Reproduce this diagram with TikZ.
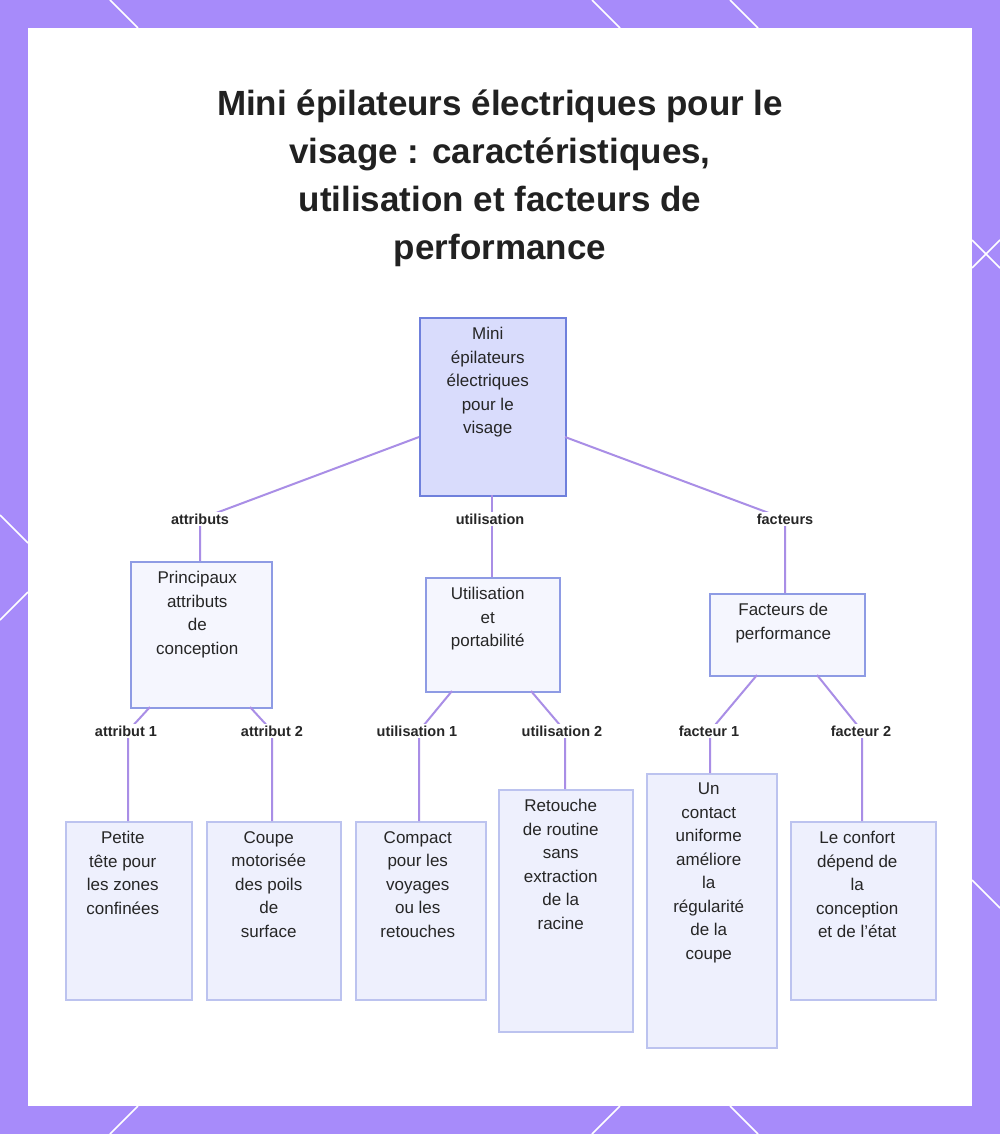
\documentclass[tikz,border=0pt]{standalone}
\usepackage{fontspec}
\setmainfont{Liberation Sans}
\begin{document}
\begin{tikzpicture}[x=1pt,y=-1pt,
 box/.style={draw=#1,line width=1.5pt,inner sep=0pt,anchor=north west},
 txt/.style={anchor=north,align=center,font=\fontsize{17}{23.5}\selectfont,text=black!85,inner sep=0pt},
 lab/.style={font=\bfseries\fontsize{14.5}{16}\selectfont,fill=white,inner sep=2pt,text=black!85},
 edge/.style={draw=edgec,line width=2pt}]
\definecolor{bord}{HTML}{A78BFA}
\definecolor{edgec}{HTML}{A98EE6}
\definecolor{rootf}{HTML}{D9DCFC}
\definecolor{rootb}{HTML}{6F80DC}
\definecolor{midf}{HTML}{F5F6FE}
\definecolor{midb}{HTML}{8E9BE4}
\definecolor{leaff}{HTML}{EEF0FD}
\definecolor{leafb}{HTML}{BCC3EF}
\useasboundingbox (0,0) rectangle (1000,1134);
\fill[bord] (0,0) rectangle (1000,1134);
\fill[white] (28,28) rectangle (972,1106);
\foreach \a/\b/\c/\d in {110/0/138/28, 592/0/620/28, 730/0/758/28, 972/240/1000/268, 972/268/1000/240, 0/515/28/543, 0/620/28/592, 110/1134/138/1106, 592/1134/620/1106, 730/1106/758/1134, 972/880/1000/908}
 \draw[white,line width=1.5pt] (\a,\b)--(\c,\d);
\node[align=center,font=\bfseries\fontsize{35}{48}\selectfont,text=black!87] (title) at (500,178)
 {Mini épilateurs électriques pour le\\visage : caractéristiques,\\utilisation et facteurs de\\performance};
% boxes
\node[box=rootb,fill=rootf,minimum width=146,minimum height=178] (root) at (419,317) {};
\node[box=midb,fill=midf,minimum width=141,minimum height=146] (A) at (130,561) {};
\node[box=midb,fill=midf,minimum width=134,minimum height=114] (U) at (425,577) {};
\node[box=midb,fill=midf,minimum width=155,minimum height=82] (F) at (709,593) {};
\node[box=leafb,fill=leaff,minimum width=126,minimum height=178] (L1) at (65,821) {};
\node[box=leafb,fill=leaff,minimum width=134,minimum height=178] (L2) at (206,821) {};
\node[box=leafb,fill=leaff,minimum width=130,minimum height=178] (L3) at (355,821) {};
\node[box=leafb,fill=leaff,minimum width=134,minimum height=242] (L4) at (498,789) {};
\node[box=leafb,fill=leaff,minimum width=130,minimum height=274] (L5) at (646,773) {};
\node[box=leafb,fill=leaff,minimum width=145,minimum height=178] (L6) at (790,821) {};
% texts
\node[txt] (troot) at ([xshift=-5,yshift=-10]root.north) {Mini\\épilateurs\\électriques\\pour le\\visage};
\node[txt] (tA) at ([xshift=-4,yshift=-10]A.north) {Principaux\\attributs\\de\\conception};
\node[txt] (tU) at ([xshift=-5,yshift=-10]U.north) {Utilisation\\et\\portabilité};
\node[txt] (tF) at ([xshift=-4,yshift=-10]F.north) {Facteurs de\\performance};
\node[txt] (t1) at ([xshift=-6,yshift=-10]L1.north) {Petite\\tête pour\\les zones\\confinées};
\node[txt] (t2) at ([xshift=-5,yshift=-10]L2.north) {Coupe\\motorisée\\des poils\\de\\surface};
\node[txt] (t3) at ([xshift=-3,yshift=-10]L3.north) {Compact\\pour les\\voyages\\ou les\\retouches};
\node[txt] (t4) at ([xshift=-5,yshift=-10]L4.north) {Retouche\\de routine\\sans\\extraction\\de la\\racine};
\node[txt] (t5) at ([xshift=-3,yshift=-10]L5.north) {Un\\contact\\uniforme\\améliore\\la\\régularité\\de la\\coupe};
\node[txt] (t6) at ([xshift=-6,yshift=-10]L6.north) {Le confort\\dépend de\\la\\conception\\et de l'état};
% edge points
\coordinate (rl) at (419,437); \coordinate (rr) at (565,437);
\coordinate (a1) at (150,707); \coordinate (a2) at (250,707);
\coordinate (u1) at (452,691); \coordinate (u2) at (531,691);
\coordinate (f1) at (757,675); \coordinate (f2) at (817,675);
\coordinate (Ltop) at (200,561); \coordinate (Ftop) at (785,593);
\coordinate (x1) at (128,821); \coordinate (x2) at (272,821);
\coordinate (x3) at (419,821); \coordinate (x4) at (565,789);
\coordinate (x5) at (710,773); \coordinate (x6) at (862,821);
\coordinate (rb) at (492,495); \coordinate (ut) at (492,577);
% edges
\draw[edge] (rl)--(200,519)--(Ltop);
\draw[edge] (rb)--(ut);
\draw[edge] (rr)--(785,519)--(Ftop);
\draw[edge] (a1)--(128,731)--(x1);
\draw[edge] (a2)--(272,731)--(x2);
\draw[edge] (u1)--(419,731)--(x3);
\draw[edge] (u2)--(565,731)--(x4);
\draw[edge] (f1)--(710,731)--(x5);
\draw[edge] (f2)--(862,731)--(x6);
% labels
\node[lab] (la) at (200,519) {attributs};
\node[lab] (lu) at (490,519) {utilisation};
\node[lab] (lf) at (785,519) {facteurs};
\node[lab] (l1) at (126,731) {attribut 1};
\node[lab] (l2) at (272,731) {attribut 2};
\node[lab] (l3) at (417,731) {utilisation 1};
\node[lab] (l4) at (562,731) {utilisation 2};
\node[lab] (l5) at (709,731) {facteur 1};
\node[lab] (l6) at (861,731) {facteur 2};
\end{tikzpicture}
\end{document}
